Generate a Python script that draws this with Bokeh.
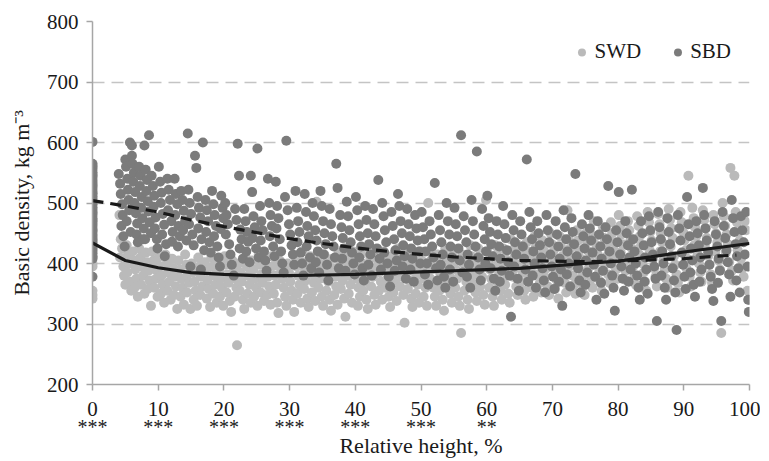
from bokeh.plotting import figure
from bokeh.models import Range1d, Legend, LegendItem, FixedTicker, LinearAxis
from bokeh.embed import file_html
from bokeh.resources import INLINE

FONT = "Liberation Serif"

x_ticks = [0, 10, 20, 30, 40, 50, 60, 70, 80, 90, 100]
y_ticks = [200, 300, 400, 500, 600, 700, 800]
sig_x = [0, 10, 20, 30, 40, 50, 60]
sig_labels = ["***", "***", "***", "***", "***", "***", "**"]

# stem base (relative height 0)
sbd_base = [601, 565, 560, 556, 551, 547, 543, 538, 534, 529, 525, 520, 516, 511, 507, 502, 498, 493,
            489, 484, 480, 475, 471, 466, 462, 457, 453, 448, 444, 439, 435, 430, 426, 421, 417, 412, 408, 378]
swd_base = [562, 545, 530, 515, 500, 485, 470, 455, 440, 425, 410, 400, 395, 355, 348, 342]

sbd_pts = [
    (4.0,548),(4.2,532),(4.3,515),(4.5,498),(4.6,480),(4.4,462),(4.7,445),(4.9,428),(5.0,572),(5.1,560),(5.3,540),(5.4,522),(5.5,505),(5.6,488),(5.2,470),(5.8,452),(5.7,600),(6.0,578),(6.1,565),(6.3,550),(6.2,535),(6.5,518),(6.4,500),(6.6,483),(6.8,466),(6.7,448),(6.9,435),(7.1,560),(7.3,545),(7.2,528),(7.5,510),(7.4,492),(7.6,475),(7.8,458),(7.7,440),(7.9,595),(8.1,555),(8.3,538),(8.2,520),(8.4,503),(8.6,612),(8.5,486),(8.7,468),(8.9,450),(9.0,545),(9.2,528),(9.4,512),(9.3,494),(9.6,476),(9.5,458),(9.8,440),(9.9,425),(6.0,595),(8.0,440),
    (10.1,560),(10.3,535),(10.5,517),(10.4,500),(10.7,482),(10.9,464),(10.6,448),(11.2,432),(11.0,412),(11.4,540),(11.6,522),(11.8,505),(11.5,488),(12.0,470),(12.2,452),(12.1,436),(12.5,540),(12.7,515),(12.9,498),(12.6,480),(13.1,462),(13.3,445),(13.0,428),(13.5,520),(13.7,505),(13.9,487),(14.1,470),(13.8,455),(14.3,438),(14.5,615),(14.6,522),(14.8,500),(15.0,482),(14.7,465),(15.2,448),(15.4,430),(15.6,578),(15.8,558),(16.0,510),(16.2,492),(16.4,476),(16.1,458),(16.6,440),(16.8,600),(17.0,422),(17.2,505),(17.4,488),(17.6,470),(17.3,452),(17.8,435),(18.0,418),(18.2,520),(18.4,498),(18.6,480),(18.8,462),(18.5,445),(19.0,428),(19.2,410),(19.4,395),(19.6,512),(19.8,492),(19.9,475),(19.5,457),(14.9,395),(16.5,390),
    (20.2,500),(20.4,480),(20.6,465),(20.3,448),(20.8,432),(21.0,415),(21.2,398),(21.5,380),(21.7,490),(21.9,472),(22.1,598),(22.3,545),(22.5,456),(22.7,440),(22.4,425),(22.9,408),(23.1,490),(23.3,470),(23.5,452),(23.7,436),(23.4,420),(23.9,402),(24.1,545),(24.3,518),(24.5,478),(24.7,460),(24.4,442),(24.9,425),(25.1,590),(25.3,410),(25.5,495),(25.7,470),(25.9,455),(25.6,438),(26.1,420),(26.3,405),(26.5,388),(26.7,540),(26.9,500),(27.1,480),(27.3,462),(27.0,445),(27.5,428),(27.7,412),(27.9,535),(28.1,495),(28.3,475),(28.0,458),(28.5,440),(28.7,420),(28.9,400),(29.1,385),(29.5,603),(29.3,510),(29.7,488),(29.9,465),
    (30.1,448),(30.3,430),(30.5,415),(30.7,398),(30.9,520),(31.1,492),(31.3,470),(31.5,452),(31.2,435),(31.7,418),(31.9,400),(32.1,380),(32.3,515),(32.5,485),(32.7,462),(32.9,445),(32.6,428),(33.1,410),(33.3,392),(33.5,500),(33.7,478),(33.9,455),(34.1,438),(34.3,420),(34.0,402),(34.5,385),(34.7,520),(34.9,495),(35.1,470),(35.3,450),(35.5,432),(35.2,415),(35.7,398),(35.9,372),(36.1,490),(36.3,465),(36.5,445),(36.7,428),(36.9,410),(37.1,565),(37.3,525),(37.5,392),(37.7,480),(37.9,460),(38.1,442),(38.3,425),(38.0,408),(38.5,388),(38.7,502),(38.9,478),(39.1,455),(39.3,435),(39.5,418),(39.7,400),(39.9,382),
    (40.1,510),(40.3,488),(40.5,465),(40.7,445),(40.9,428),(40.6,410),(41.1,392),(41.3,372),(41.5,495),(41.7,472),(41.9,450),(42.1,432),(42.3,415),(42.0,398),(42.5,380),(42.7,490),(42.9,465),(43.1,445),(43.3,425),(43.5,538),(43.7,408),(43.9,390),(44.1,500),(44.3,478),(44.5,455),(44.7,435),(44.4,418),(44.9,400),(45.1,378),(45.3,362),(45.5,485),(45.7,462),(45.9,440),(46.1,422),(46.3,405),(46.0,388),(46.5,515),(46.7,495),(46.9,470),(47.1,450),(47.3,430),(47.5,412),(47.2,395),(47.7,375),(47.9,490),(48.1,465),(48.3,445),(48.5,425),(48.7,408),(48.4,390),(48.9,370),(49.1,480),(49.3,458),(49.5,438),(49.7,420),(49.9,400),
    (50.1,485),(50.3,460),(50.5,440),(50.7,420),(50.9,400),(50.6,382),(51.1,365),(51.3,470),(51.5,448),(51.7,428),(51.9,410),(52.1,533),(52.3,392),(52.5,372),(52.7,480),(52.9,455),(53.1,435),(53.3,415),(53.0,398),(53.5,378),(53.7,360),(53.9,500),(54.1,470),(54.3,448),(54.5,428),(54.7,410),(54.4,390),(54.9,370),(55.1,492),(55.3,465),(55.5,445),(55.7,425),(55.9,405),(56.1,612),(56.3,385),(56.5,478),(56.7,455),(56.9,435),(57.1,415),(57.3,398),(57.0,378),(57.5,360),(57.7,505),(57.9,470),(58.1,448),(58.3,428),(58.5,585),(58.7,410),(58.9,390),(59.1,372),(59.3,490),(59.5,462),(59.7,440),(59.9,420),(59.8,400),
    (60.1,512),(60.3,475),(60.5,452),(60.7,432),(60.9,412),(60.6,392),(61.1,375),(61.3,355),(61.5,470),(61.7,448),(61.9,428),(62.1,408),(62.3,388),(62.0,370),(62.5,495),(62.7,465),(62.9,442),(63.1,422),(63.3,402),(63.5,380),(63.7,312),(63.9,480),(64.1,455),(64.3,435),(64.5,415),(64.2,395),(64.7,375),(64.9,355),(65.1,470),(65.3,448),(65.5,428),(65.7,408),(65.9,390),(66.1,572),(66.3,370),(66.5,485),(66.7,460),(66.9,440),(67.1,420),(67.3,400),(67.0,380),(67.5,360),(67.7,470),(67.9,450),(68.1,430),(68.3,410),(68.5,392),(68.7,372),(68.9,352),(69.1,480),(69.3,455),(69.5,435),(69.7,415),(69.9,395),
    (70.1,378),(70.3,358),(70.5,470),(70.7,448),(70.9,428),(71.1,408),(71.3,390),(71.0,370),(71.5,330),(71.7,488),(71.9,460),(72.1,440),(72.3,420),(72.5,400),(72.2,382),(72.7,362),(72.9,475),(73.1,452),(73.3,432),(73.5,548),(73.7,412),(73.9,392),(74.1,372),(74.3,352),(74.5,465),(74.7,445),(74.9,425),(75.1,405),(75.3,385),(75.0,365),(75.5,480),(75.7,458),(75.9,438),(76.1,418),(76.3,398),(76.5,378),(76.7,340),(76.9,470),(77.1,448),(77.3,428),(77.5,408),(77.7,388),(77.4,368),(77.9,350),(78.1,460),(78.3,440),(78.5,528),(78.7,420),(78.9,400),(79.1,380),(79.3,360),(79.5,322),(79.7,455),(79.9,435),
    (80.1,518),(80.3,415),(80.5,395),(80.7,375),(80.9,355),(81.1,470),(81.3,450),(81.5,430),(81.7,410),(81.9,390),(81.6,370),(82.1,522),(82.3,440),(82.5,420),(82.7,400),(82.9,380),(83.1,360),(83.3,340),(83.5,470),(83.7,450),(83.9,430),(84.1,410),(84.3,390),(84.0,370),(84.5,350),(84.7,478),(84.9,455),(85.1,435),(85.3,415),(85.5,395),(85.7,375),(85.9,305),(86.1,485),(86.3,460),(86.5,440),(86.7,420),(86.9,400),(86.6,380),(87.1,360),(87.3,340),(87.5,475),(87.7,452),(87.9,432),(88.1,412),(88.3,392),(88.5,372),(88.7,352),(88.9,290),(89.1,480),(89.3,458),(89.5,438),(89.7,418),(89.9,398),
    (90.1,378),(90.3,358),(90.5,510),(90.7,465),(90.9,445),(91.1,425),(91.3,405),(91.0,385),(91.5,365),(91.7,345),(91.9,470),(92.1,450),(92.3,430),(92.5,410),(92.7,390),(92.4,370),(92.9,525),(93.1,480),(93.3,458),(93.5,438),(93.7,418),(93.9,398),(94.1,378),(94.3,358),(94.5,338),(94.7,470),(94.9,448),(95.1,428),(95.3,408),(95.5,388),(95.2,368),(95.7,305),(95.9,485),(96.1,462),(96.3,442),(96.5,422),(96.7,402),(96.9,382),(97.1,345),(97.3,505),(97.5,475),(97.7,452),(97.9,432),(98.1,412),(98.3,392),(98.0,372),(98.5,352),(98.7,478),(98.9,455),(99.1,435),(99.3,415),(99.5,485),(99.7,395),(99.8,340),(99.9,320),
]

swd_pts = [
    (4.1,480),(4.3,440),(4.5,425),(4.2,410),(4.7,395),(4.8,380),(5.0,365),(5.2,430),(5.4,415),(5.6,400),(5.3,385),(5.8,370),(5.9,355),(6.1,420),(6.3,405),(6.5,390),(6.7,375),(6.4,360),(6.9,345),(7.1,425),(7.3,410),(7.5,395),(7.7,380),(7.4,365),(7.9,350),(8.1,418),(8.3,402),(8.5,388),(8.7,372),(8.4,358),(8.9,330),(9.1,420),(9.3,405),(9.5,390),(9.7,375),(9.4,360),(9.9,345),
    (10.1,410),(10.3,395),(10.5,380),(10.7,365),(10.4,350),(10.9,335),(11.1,415),(11.3,400),(11.5,385),(11.7,370),(11.4,355),(11.9,340),(12.1,408),(12.3,392),(12.5,378),(12.7,362),(12.4,348),(12.9,325),(13.1,405),(13.3,390),(13.5,375),(13.7,360),(13.4,345),(13.9,332),(14.1,415),(14.3,398),(14.5,382),(14.7,368),(14.4,352),(14.9,325),(15.1,400),(15.3,385),(15.5,370),(15.7,355),(15.4,340),(15.9,330),(16.1,410),(16.3,395),(16.5,378),(16.7,362),(16.4,348),(17.1,402),(17.3,388),(17.5,372),(17.7,358),(17.4,342),(17.9,328),(18.1,410),(18.3,395),(18.5,380),(18.7,365),(18.4,350),(18.9,335),(19.1,405),(19.3,390),(19.5,375),(19.7,360),(19.4,345),(19.9,330),
    (20.1,412),(20.3,398),(20.5,382),(20.7,368),(20.4,352),(20.9,338),(21.1,320),(21.3,405),(21.5,390),(21.7,375),(21.9,360),(21.6,345),(22.0,265),(22.3,400),(22.5,385),(22.7,370),(22.4,355),(22.9,340),(23.1,325),(23.3,410),(23.5,395),(23.7,380),(23.9,365),(23.6,350),(24.1,335),(24.3,405),(24.5,390),(24.7,375),(24.9,360),(24.6,345),(25.1,330),(25.3,415),(25.5,398),(25.7,382),(25.9,368),(25.6,352),(26.1,338),(26.3,408),(26.5,392),(26.7,378),(26.9,362),(26.6,348),(27.1,332),(27.3,412),(27.5,396),(27.7,380),(27.9,365),(27.6,350),(28.1,335),(28.3,318),(28.5,405),(28.7,390),(28.9,375),(29.1,360),(29.3,345),(29.5,330),(29.7,400),(29.9,385),
    (30.1,370),(30.3,355),(30.5,340),(30.7,320),(30.9,410),(31.1,395),(31.3,380),(31.5,365),(31.2,350),(31.7,335),(31.9,420),(32.1,402),(32.3,388),(32.5,372),(32.2,358),(32.7,342),(32.9,328),(33.1,412),(33.3,398),(33.5,382),(33.7,368),(33.4,352),(33.9,338),(34.1,502),(34.3,405),(34.5,390),(34.7,375),(34.4,360),(34.9,345),(35.1,330),(35.3,415),(35.5,400),(35.7,385),(35.9,370),(35.6,355),(36.1,340),(36.3,322),(36.5,408),(36.7,392),(36.9,378),(37.1,362),(36.8,348),(37.3,332),(37.5,418),(37.7,402),(37.9,388),(38.1,372),(37.8,358),(38.3,342),(38.5,312),(38.7,410),(38.9,395),(39.1,380),(39.3,365),(39.0,350),(39.5,335),(39.7,420),(39.9,405),
    (40.1,390),(40.3,375),(40.5,360),(40.7,345),(40.4,330),(40.9,415),(41.1,400),(41.3,385),(41.5,370),(41.2,355),(41.7,340),(41.9,325),(42.1,425),(42.3,408),(42.5,392),(42.7,378),(42.4,362),(42.9,348),(43.1,332),(43.3,415),(43.5,400),(43.7,385),(43.9,370),(43.6,355),(44.1,340),(44.3,420),(44.5,405),(44.7,390),(44.9,375),(44.6,360),(45.1,345),(45.3,328),(45.5,412),(45.7,398),(45.9,382),(46.1,368),(45.8,352),(46.3,338),(46.5,425),(46.7,408),(46.9,392),(47.1,378),(46.8,362),(47.3,348),(47.5,302),(47.7,418),(47.9,402),(48.1,388),(48.3,372),(48.0,358),(48.5,342),(48.7,328),(48.9,410),(49.1,395),(49.3,380),(49.5,365),(49.2,350),(49.7,335),(49.9,420),
    (50.1,405),(50.3,390),(50.5,375),(50.7,360),(50.4,345),(50.9,330),(51.1,500),(51.3,420),(51.5,405),(51.7,390),(51.4,375),(51.9,360),(52.1,345),(52.3,330),(52.5,415),(52.7,400),(52.9,385),(53.1,370),(52.8,355),(53.3,340),(53.5,322),(53.7,425),(53.9,410),(54.1,395),(54.3,380),(54.0,365),(54.5,350),(54.7,335),(54.9,420),(55.1,405),(55.3,390),(55.5,375),(55.2,360),(55.7,345),(55.9,330),(56.1,285),(56.3,415),(56.5,400),(56.7,385),(56.9,370),(56.6,355),(57.1,340),(57.3,325),(57.5,430),(57.7,412),(57.9,398),(58.1,382),(57.8,368),(58.3,352),(58.5,338),(58.7,425),(58.9,408),(59.1,392),(59.3,378),(59.0,362),(59.5,348),(59.7,332),(59.9,505),
    (60.1,420),(60.3,405),(60.5,390),(60.7,375),(60.4,360),(60.9,345),(61.1,330),(61.3,430),(61.5,415),(61.7,400),(61.9,385),(61.6,370),(62.1,355),(62.3,340),(62.5,425),(62.7,410),(62.9,395),(63.1,380),(62.8,365),(63.3,350),(63.5,335),(63.7,440),(63.9,422),(64.1,408),(64.3,392),(64.0,378),(64.5,362),(64.7,348),(64.9,430),(65.1,415),(65.3,400),(65.5,385),(65.2,370),(65.7,355),(65.9,340),(66.1,435),(66.3,420),(66.5,405),(66.7,390),(66.4,375),(66.9,360),(67.1,345),(67.3,445),(67.5,428),(67.7,412),(67.9,398),(67.6,382),(68.1,368),(68.3,352),(68.5,438),(68.7,422),(68.9,408),(69.1,392),(68.8,378),(69.3,362),(69.5,348),(69.7,450),(69.9,432),
    (70.1,418),(70.3,402),(70.5,388),(70.7,372),(70.4,358),(70.9,342),(71.1,445),(71.3,428),(71.5,412),(71.7,398),(71.4,382),(71.9,368),(72.1,352),(72.3,488),(72.5,440),(72.7,425),(72.9,410),(72.6,395),(73.1,380),(73.3,365),(73.5,350),(73.7,455),(73.9,438),(74.1,422),(74.3,408),(74.0,392),(74.5,378),(74.7,362),(74.9,348),(75.1,450),(75.3,435),(75.5,420),(75.7,405),(75.4,390),(75.9,375),(76.1,360),(76.3,470),(76.5,445),(76.7,430),(76.9,415),(76.6,400),(77.1,385),(77.3,370),(77.5,355),(77.7,460),(77.9,442),(78.1,428),(78.3,412),(78.0,398),(78.5,382),(78.7,368),(78.9,468),(79.1,450),(79.3,435),(79.5,420),(79.2,405),(79.7,390),(79.9,375),
    (80.1,480),(80.3,462),(80.5,448),(80.7,432),(80.4,418),(80.9,402),(81.1,388),(81.3,372),(81.5,470),(81.7,455),(81.9,440),(82.1,425),(81.8,410),(82.3,395),(82.5,380),(82.7,365),(82.9,478),(83.1,462),(83.3,445),(83.5,430),(83.2,415),(83.7,400),(83.9,385),(84.1,370),(84.3,355),(84.5,485),(84.7,468),(84.9,452),(85.1,438),(84.8,422),(85.3,408),(85.5,392),(85.7,378),(85.9,362),(86.1,482),(86.3,465),(86.5,450),(86.7,435),(86.4,420),(86.9,405),(87.1,390),(87.3,375),(87.5,360),(87.7,490),(87.9,472),(88.1,458),(88.3,442),(88.0,428),(88.5,412),(88.7,398),(88.9,382),(89.1,368),(89.3,352),(89.5,485),(89.7,468),(89.9,452),
    (90.1,438),(90.3,422),(90.5,408),(90.7,545),(90.4,392),(90.9,378),(91.1,362),(91.3,492),(91.5,475),(91.7,460),(91.9,445),(91.6,430),(92.1,415),(92.3,400),(92.5,385),(92.7,370),(92.9,488),(93.1,472),(93.3,458),(93.5,442),(93.2,428),(93.7,412),(93.9,398),(94.1,382),(94.3,368),(94.5,480),(94.7,465),(94.9,450),(95.1,435),(94.8,420),(95.3,405),(95.5,390),(95.7,285),(95.9,500),(96.1,478),(96.3,462),(96.5,448),(96.7,432),(96.4,418),(96.9,402),(97.1,558),(97.3,388),(97.5,372),(97.7,545),(97.9,485),(98.1,468),(98.3,452),(98.5,438),(98.2,422),(98.7,408),(98.9,392),(99.1,378),(99.3,470),(99.5,455),(99.7,355),(99.9,340),
]

# fitted trend curves
swd_fit_x = [0, 5, 10, 15, 20, 25, 30, 35, 40, 45, 50, 55, 60, 65, 70, 75, 80, 85, 90, 95, 100]
swd_fit_y = [434, 405, 393, 385, 382, 380, 380, 381, 382, 384, 386, 388, 390, 392, 396, 400, 404, 411, 419, 426, 433]
sbd_fit_x = [0, 5, 10, 15, 20, 25, 30, 35, 40, 45, 50, 55, 60, 65, 70, 75, 80, 85, 90, 95, 98]
sbd_fit_y = [504, 495, 485, 472, 461, 451, 441, 433, 426, 420, 415, 411, 408, 405, 404, 403, 404, 406, 408, 412, 414]

swd_x = [0] * len(swd_base) + [p[0] for p in swd_pts]
swd_y = swd_base + [p[1] for p in swd_pts]
sbd_x = [0] * len(sbd_base) + [p[0] for p in sbd_pts]
sbd_y = sbd_base + [p[1] for p in sbd_pts]

LIGHT = "#bababa"
DARK = "#7b7b7b"
TEXT = "#1a1a1a"

p = figure(width=760, height=460, output_backend="svg", toolbar_location=None,
           x_range=Range1d(0, 100), y_range=Range1d(200, 800),
           min_border_left=92, min_border_right=11, min_border_top=21, min_border_bottom=76)
p.outline_line_color = None
p.background_fill_color = "white"

r_swd = p.scatter(swd_x, swd_y, size=10, fill_color=LIGHT, line_color=None)
r_sbd = p.scatter(sbd_x, sbd_y, size=10, fill_color=DARK, line_color=None)
p.line(swd_fit_x, swd_fit_y, line_color=TEXT, line_width=3.2)
p.line(sbd_fit_x, sbd_fit_y, line_color=TEXT, line_width=3.2, line_dash="11 7")

p.xgrid.visible = False
p.ygrid.ticker = FixedTicker(ticks=y_ticks)
p.ygrid.grid_line_color = "#c4c4c4"
p.ygrid.grid_line_width = 1.5
p.ygrid.grid_line_dash = "12 7"

for ax in (p.xaxis[0], p.yaxis[0]):
    ax.axis_line_color = "#a6a6a6"
    ax.axis_line_width = 1.5
    ax.major_tick_line_color = "#a6a6a6"
    ax.major_tick_line_width = 1.5
    ax.major_tick_in = 0
    ax.major_tick_out = 6
    ax.minor_tick_line_color = None
    ax.major_label_text_font = FONT
    ax.major_label_text_font_size = "21px"
    ax.major_label_text_color = TEXT
    ax.axis_label_text_font = FONT
    ax.axis_label_text_font_size = "22px"
    ax.axis_label_text_font_style = "normal"
    ax.axis_label_text_color = TEXT

p.xaxis.ticker = FixedTicker(ticks=x_ticks)
p.yaxis.ticker = FixedTicker(ticks=y_ticks)
p.xaxis.major_label_standoff = 11
p.yaxis.axis_label = "Basic density, kg m\u207b\u00b3"
p.yaxis.major_label_standoff = 8
p.yaxis.axis_label_standoff = 10

# significance marks under the ticks, carried by a second bottom axis
sig_axis = LinearAxis(ticker=FixedTicker(ticks=sig_x),
                      major_label_overrides={t: s for t, s in zip(sig_x, sig_labels)},
                      axis_line_color=None, major_tick_line_color=None, minor_tick_line_color=None,
                      major_tick_in=0, major_tick_out=0, major_label_standoff=-3,
                      major_label_text_font=FONT, major_label_text_font_size="20px",
                      major_label_text_color=TEXT,
                      axis_label="Relative height, %", axis_label_standoff=-8,
                      axis_label_text_font=FONT, axis_label_text_font_size="22px",
                      axis_label_text_font_style="normal", axis_label_text_color=TEXT)
p.add_layout(sig_axis, "below")

legend = Legend(items=[LegendItem(label="SWD", renderers=[r_swd]),
                       LegendItem(label="SBD", renderers=[r_sbd])],
                orientation="horizontal", location="top_right",
                border_line_color=None, background_fill_alpha=0,
                label_text_font=FONT, label_text_font_size="21px", label_text_color=TEXT,
                glyph_width=20, glyph_height=20, label_standoff=3, spacing=26,
                padding=4, margin=18)
p.add_layout(legend)

open("out.html", "w").write(file_html(p, INLINE))
